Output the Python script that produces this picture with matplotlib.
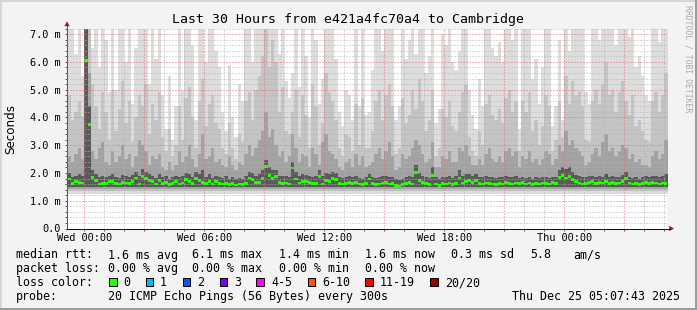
import numpy as np
import matplotlib
matplotlib.use("Agg")
import matplotlib.pyplot as plt
from matplotlib.patches import Rectangle, Polygon
from matplotlib.lines import Line2D
from matplotlib.transforms import Affine2D

W, H = 697, 310
MONO = "DejaVu Sans Mono"

# ---------------- data ----------------
title = "Last 30 Hours from e421a4fc70a4 to Cambridge"
start_hour = -50 / 60            # first 10-min step: Tue 23:10 (hours rel. to Wed 00:00)
step_minutes = 10
view_start = -(52 + 17 / 60) / 60  # Tue 23:07:43
view_hours = 30

median = [1.78, 1.62, 1.68, 1.66, 1.64, 6.05, 3.75, 1.85, 1.72, 1.60,
          1.63, 1.62, 1.68, 1.70, 1.62, 1.60, 1.66, 1.64, 1.62, 1.68,
          1.82, 1.60, 1.87, 1.80, 1.72, 1.68, 1.60, 1.72, 1.62, 1.66,
          1.58, 1.62, 1.68, 1.60, 1.64, 1.76, 1.70, 1.62, 1.80, 1.74,
          1.66, 1.63, 1.70, 1.60, 1.68,
          1.63, 1.60, 1.62, 1.58, 1.63, 1.57, 1.60, 1.58, 1.63, 1.82,
          1.76, 1.66, 1.66, 1.80, 2.22, 1.92, 1.80, 1.86, 1.66, 1.62,
          1.64, 1.60, 2.18, 1.78, 1.64, 1.70, 1.68, 1.66, 1.62, 1.63,
          1.86, 1.60, 1.72, 1.68, 1.80, 1.76, 1.62, 1.60, 1.63, 1.65,
          1.62, 1.66, 1.60, 1.58, 1.62,
          1.78, 1.62, 1.58, 1.60, 1.64, 1.66, 1.60, 1.62, 1.55, 1.52,
          1.58, 1.62, 1.66, 1.60, 2.02, 1.72, 1.66, 1.62, 1.58, 1.92,
          1.60, 1.56, 1.62, 1.60, 1.64, 1.58, 1.62, 1.82, 1.64, 1.68,
          1.74, 1.66, 1.72, 1.62, 1.60, 1.64, 1.62, 1.60, 1.58, 1.62,
          1.60, 1.66, 1.62, 1.60, 1.64,
          1.62, 1.66, 1.60, 1.64, 1.58, 1.62, 1.60, 1.64, 1.62, 1.60,
          1.66, 1.62, 1.84, 1.90, 1.82, 1.88, 1.76, 1.68, 1.64, 1.60,
          1.62, 1.66, 1.68, 1.62, 1.66, 1.64, 1.70, 1.62, 1.66, 1.62,
          1.64, 1.68, 1.80, 1.64, 1.60, 1.62, 1.58, 1.62, 1.66, 1.62,
          1.66, 1.64, 1.60, 1.64, 1.62]

# top of the smoke (highest ping per step, clipped at the top of the graph)
ping_max = [7.2, 7.2, 6.3, 7.2, 5.5, 7.2, 7.2, 6.5, 7.2, 5.8,
            7.2, 6.8, 4.9, 7.2, 5.0, 7.2, 7.2, 6.0, 7.2, 4.5,
            6.5, 7.2, 7.2, 7.2, 5.2, 7.2, 6.1, 7.2, 4.8, 3.6,
            5.5, 3.2, 4.4, 7.2, 5.0, 7.2, 7.2, 6.6, 3.9, 7.2,
            7.2, 6.0, 7.2, 7.2, 6.4,
            5.8, 4.2, 3.5, 5.9, 4.0, 3.3, 5.2, 4.6, 7.2, 7.2,
            6.0, 7.2, 7.2, 7.2, 7.2, 7.2, 7.2, 7.2, 6.3, 7.2,
            5.3, 4.7, 5.6, 7.2, 5.1, 7.2, 6.2, 4.0, 7.2, 6.8,
            4.5, 5.4, 7.2, 7.2, 7.2, 6.1, 4.2, 3.7, 5.0, 4.8,
            3.9, 7.2, 4.4, 7.2, 4.1,
            4.2, 5.7, 7.2, 7.2, 6.4, 7.2, 7.2, 7.2, 3.9, 4.4,
            7.2, 6.1, 6.8, 7.2, 6.3, 7.2, 7.2, 5.6, 6.2, 7.2,
            3.8, 4.3, 7.0, 6.6, 7.2, 6.0, 5.7, 6.4, 7.2, 7.2,
            5.0, 4.1, 3.6, 5.4, 4.4, 7.2, 7.2, 6.5, 6.2, 6.7,
            6.0, 7.2, 7.2, 6.8, 7.2,
            3.6, 7.2, 7.2, 7.2, 5.4, 6.1, 4.5, 5.8, 7.2, 7.2,
            3.7, 4.4, 6.8, 3.9, 7.2, 6.4, 7.2, 7.2, 7.2, 7.2,
            4.9, 4.5, 7.2, 7.2, 6.8, 7.2, 7.2, 7.2, 7.2, 6.6,
            7.2, 7.2, 7.2, 6.9, 7.2, 5.8, 6.2, 5.5, 4.8, 4.6,
            7.2, 7.2, 6.7, 7.2, 7.2]

ping_hi2 = [4.8, 3.9, 4.2, 4.6, 4.0, 7.2, 7.2, 5.2, 4.4, 3.6,
            4.9, 4.2, 3.2, 5.0, 3.5, 4.3, 5.3, 3.8, 4.6, 3.1,
            4.0, 4.8, 4.4, 5.2, 3.4, 4.5, 3.9, 4.9, 3.3, 2.8,
            3.6, 2.6, 3.0, 4.4, 3.2, 4.7, 5.1, 4.0, 2.9, 4.6,
            5.4, 3.7, 4.5, 4.8, 3.8,
            3.6, 2.9, 2.7, 3.8, 2.9, 2.5, 3.4, 3.1, 4.6, 4.9,
            3.9, 5.0, 5.5, 6.2, 7.2, 5.8, 6.8, 6.0, 4.2, 5.1,
            3.5, 3.4, 4.2, 5.0, 3.3, 4.8, 4.1, 2.9, 5.2, 4.4,
            3.0, 3.8, 5.6, 4.9, 4.6, 3.9, 2.9, 2.6, 3.4, 3.3,
            2.8, 4.5, 3.0, 4.7, 2.9,
            2.9, 3.5, 4.6, 5.0, 3.9, 4.8, 5.2, 4.4, 2.7, 2.9,
            4.7, 3.8, 4.1, 5.0, 4.3, 5.4, 4.6, 3.5, 3.9, 5.0,
            2.6, 2.9, 4.3, 4.0, 4.6, 3.7, 3.5, 4.2, 4.9, 5.2,
            3.3, 2.8, 2.6, 3.5, 3.0, 4.5, 4.8, 4.1, 3.9, 4.3,
            3.8, 4.7, 5.0, 4.2, 4.6,
            2.8, 4.6, 4.2, 4.9, 3.5, 3.9, 3.0, 3.7, 4.8, 4.4,
            2.8, 3.2, 4.6, 3.3, 5.5, 4.5, 5.3, 4.8, 4.9, 4.4,
            3.2, 3.1, 4.6, 5.0, 4.5, 5.2, 6.0, 4.8, 5.0, 4.2,
            4.9, 5.3, 4.6, 4.1, 4.8, 3.7, 3.9, 3.5, 3.2, 3.1,
            4.6, 4.9, 4.2, 4.8, 5.6]

ping_hi3 = [2.6, 2.4, 2.7, 2.9, 2.5, 7.2, 5.6, 2.8, 2.5, 2.9,
            3.1, 2.4, 2.3, 2.8, 2.4, 2.6, 3.0, 2.5, 2.7, 2.2,
            2.6, 3.2, 3.0, 2.8, 2.3, 2.6, 2.5, 2.7, 2.2, 2.1,
            2.4, 2.1, 2.3, 2.8, 2.4, 2.6, 3.0, 2.5, 2.2, 2.7,
            3.4, 2.5, 2.6, 2.9, 2.4,
            2.5, 2.3, 2.2, 2.6, 2.3, 2.1, 2.4, 2.3, 2.7, 3.0,
            2.6, 2.9, 3.2, 3.5, 4.2, 3.3, 3.6, 3.0, 2.6, 2.8,
            2.4, 2.6, 3.4, 2.9, 2.4, 2.7, 2.6, 2.2, 2.9, 2.7,
            2.3, 3.1, 3.4, 2.8, 2.7, 2.5, 2.2, 2.1, 2.4, 2.5,
            2.2, 2.7, 2.3, 2.6, 2.2,
            2.3, 2.4, 2.7, 2.9, 2.5, 2.8, 3.1, 2.6, 2.1, 2.2,
            2.7, 2.5, 2.6, 2.9, 3.2, 3.0, 2.7, 2.4, 2.5, 3.1,
            2.2, 2.2, 2.6, 2.5, 2.8, 2.4, 2.4, 2.9, 2.8, 3.0,
            2.6, 2.3, 2.3, 2.5, 2.3, 2.7, 2.9, 2.5, 2.4, 2.6,
            2.4, 2.8, 2.9, 2.6, 2.8,
            2.2, 2.6, 2.5, 2.8, 2.4, 2.5, 2.3, 2.5, 2.8, 2.7,
            2.3, 2.5, 3.0, 2.8, 3.5, 3.0, 3.2, 2.9, 2.8, 2.6,
            2.3, 2.4, 2.7, 2.9, 2.6, 3.1, 3.4, 2.8, 2.9, 2.6,
            2.8, 3.0, 2.9, 2.5, 2.7, 2.4, 2.5, 2.3, 2.3, 2.2,
            2.6, 2.8, 2.5, 2.7, 3.2]

ping_hi4 = [2.00, 1.85, 1.90, 1.95, 1.90, 7.20, 4.40, 2.10, 1.95, 1.85,
            1.90, 1.85, 1.90, 1.95, 1.85, 1.82, 1.92, 1.88, 1.85, 1.92,
            2.05, 1.90, 2.15, 2.05, 1.95, 1.90, 1.82, 1.95, 1.85, 1.88,
            1.80, 1.85, 1.90, 1.85, 1.88, 2.00, 1.95, 1.85, 2.05, 1.98,
            2.10, 1.85, 1.95, 1.82, 1.90,
            1.85, 1.82, 1.88, 1.80, 1.85, 1.80, 1.82, 1.80, 1.88, 2.05,
            2.00, 1.90, 1.95, 2.10, 2.45, 2.20, 2.10, 2.10, 1.90, 1.88,
            1.90, 1.85, 2.40, 2.05, 1.88, 1.95, 1.92, 1.90, 1.85, 1.88,
            2.10, 1.90, 2.00, 1.95, 2.05, 2.00, 1.85, 1.82, 1.86, 1.88,
            1.85, 1.90, 1.82, 1.80, 1.85,
            1.95, 1.85, 1.82, 1.85, 1.88, 1.90, 1.85, 1.86, 1.78, 1.75,
            1.80, 1.85, 1.90, 1.85, 2.30, 2.00, 1.88, 1.84, 1.82, 2.20,
            1.85, 1.80, 1.85, 1.84, 1.88, 1.82, 1.90, 2.10, 1.90, 1.95,
            1.98, 1.90, 1.95, 1.86, 1.84, 1.88, 1.86, 1.84, 1.82, 1.86,
            1.84, 1.90, 1.86, 1.84, 1.88,
            1.82, 1.86, 1.82, 1.85, 1.80, 1.84, 1.82, 1.86, 1.84, 1.82,
            1.86, 1.84, 2.10, 2.20, 2.15, 2.20, 2.05, 1.92, 1.88, 1.84,
            1.84, 1.88, 1.90, 1.85, 1.90, 1.86, 1.95, 1.84, 1.88, 1.84,
            1.86, 1.92, 2.05, 1.86, 1.82, 1.84, 1.80, 1.84, 1.88, 1.84,
            1.90, 1.88, 1.84, 1.90, 1.95]

band_floor = [1.24, 1.35, 1.43, 1.49]   # lower edge of each smoke band (ms)
band_colors = ["#dddddd", "#c4c4c4", "#a2a2a2", "#5a5a5a"]

y_ticks = [0, 1, 2, 3, 4, 5, 6, 7]
y_tick_labels = ["0.0", "1.0 m", "2.0 m", "3.0 m", "4.0 m", "5.0 m", "6.0 m", "7.0 m"]
x_tick_hours = [0, 6, 12, 18, 24]
x_tick_labels = ["Wed 00:00", "Wed 06:00", "Wed 12:00", "Wed 18:00", "Thu 00:00"]

rtt_stats = ["1.6 ms avg", "6.1 ms max", "1.4 ms min", "1.6 ms now", "0.3 ms sd", "5.8", "am/s"]
loss_stats = ["0.00 % avg", "0.00 % max", "0.00 % min", "0.00 % now"]
loss_labels = ["0", "1", "2", "3", "4-5", "6-10", "11-19", "20/20"]
loss_colors = ["#26ff00", "#00b8ff", "#0059ff", "#7e00ff", "#ff00ff", "#ff5500", "#ff0000", "#a10000"]
probe_text = "20 ICMP Echo Pings (56 Bytes) every 300s"
stamp_text = "Thu Dec 25 05:07:43 2025"
watermark = "RRDTOOL / TOBI OETIKER"

# ---------------- figure ----------------
plt.rcParams["lines.scale_dashes"] = False
fig = plt.figure(figsize=(W / 100, H / 100), dpi=100, facecolor="#f3f3f3")
pix = Affine2D().scale(1 / W, -1 / H).translate(0, 1) + fig.transFigure

ax_left, ax_top, ax_w, ax_h = 67, 28.5, 600, 200
ax = fig.add_axes([ax_left / W, 1 - (ax_top + ax_h) / H, ax_w / W, ax_h / H])
ax.set_facecolor("white")

n = len(median)
step_h = step_minutes / 60
edges = start_hour + np.arange(n + 1) * step_h
uppers = [ping_max, ping_hi2, ping_hi3, ping_hi4]
for i, (up, lo, col) in enumerate(zip(uppers, band_floor, band_colors)):
    ax.fill_between(edges, lo, np.append(up, up[-1]), step="post",
                    color=col, linewidth=0, zorder=1 + 0.1 * i)

med = np.array(median)
ax.bar(edges[:-1], 0.1, bottom=med - 0.05, width=step_h, align="edge",
       color="#26ff00", linewidth=0, zorder=3)

ax.set_xlim(view_start, view_start + view_hours)
ax.set_ylim(0, 7.2)

major_x = list(range(0, 30, 3))
ax.set_xticks(major_x)
ax.set_xticklabels([x_tick_labels[x_tick_hours.index(h)] if h in x_tick_hours else "" for h in major_x])
ax.set_xticks(list(range(0, 30, 1)), minor=True)
ax.set_yticks(y_ticks)
ax.set_yticklabels(y_tick_labels)
ax.set_yticks(np.arange(0, 7.21, 0.2), minor=True)

ax.set_axisbelow(False)
dots = (0, (0.72, 1.44))
ax.grid(True, which="minor", color="#b4b4b4", linestyle=dots, linewidth=0.72)
ax.grid(True, which="major", color="#e07070", linestyle=dots, linewidth=0.72)

ax.tick_params(axis="both", which="both", direction="out", length=1.44, width=0.72,
               color="#555555", labelsize=7.4, labelfontfamily=MONO, labelcolor="black")
ax.tick_params(axis="y", which="both", pad=3.0)
ax.tick_params(axis="x", which="both", pad=2.0)

for s in ("top", "right"):
    ax.spines[s].set_visible(False)
ax.spines["left"].set_color("#555555")
ax.spines["bottom"].set_color("#111111")
ax.spines["left"].set_linewidth(0.72)
ax.spines["bottom"].set_linewidth(0.72)

# axis extensions and arrows
arrow_col = "#a01818"
fig.add_artist(Line2D([67, 67], [28.5, 25.5], transform=pix, color="#555555", lw=0.72))
fig.add_artist(Polygon([[64.3, 26.2], [69.7, 26.2], [67, 21.5]], closed=True,
                       transform=pix, color=arrow_col, lw=0))
fig.add_artist(Line2D([667, 669.5], [228.5, 228.5], transform=pix, color="#111111", lw=0.72))
fig.add_artist(Polygon([[669.3, 225.8], [669.3, 231.2], [674, 228.5]], closed=True,
                       transform=pix, color=arrow_col, lw=0))

# frame
fig.add_artist(Rectangle((0, 0), W, 2, transform=pix, color="#d6d6d6", lw=0))
fig.add_artist(Rectangle((0, 0), 2, H, transform=pix, color="#d6d6d6", lw=0))
fig.add_artist(Rectangle((0, H - 2), W, 2, transform=pix, color="#9c9c9c", lw=0))
fig.add_artist(Rectangle((W - 2, 0), 2, H, transform=pix, color="#9c9c9c", lw=0))

# texts
fig.text(348.5, 23.3, title, transform=pix, ha="center", va="baseline",
         fontsize=9.5, family=MONO)
fig.text(10.5, 128.5, "Seconds", transform=pix, rotation=90, ha="center", va="center",
         fontsize=8.6, family="DejaVu Sans")
fig.text(688, 5, watermark, transform=pix, rotation=270, ha="center", va="top",
         fontsize=5.9, family=MONO, color="#aaaaaa")

lt = dict(transform=pix, ha="left", va="baseline", fontsize=8.4, family=MONO)
rows = [258.5, 272.3, 286.1, 299.9]
fig.text(16, rows[0], "median rtt:", **lt)
for x, s in zip([107.6, 192.4, 279.1, 365.3, 451.1, 530.2, 573.3], rtt_stats):
    fig.text(x, rows[0], s, **lt)
fig.text(16, rows[1], "packet loss:", **lt)
for x, s in zip([107.6, 192.4, 279.1, 365.3], loss_stats):
    fig.text(x, rows[1], s, **lt)
fig.text(16, rows[2], "loss color:", **lt)
box_x = [108.9, 145.8, 182.7, 219.6, 256.4, 307.6, 365.3, 430.2]
lab_x = [123.6, 160.0, 196.9, 234.2, 271.1, 322.2, 380.0, 444.9]
for bx, lx, lab, col in zip(box_x, lab_x, loss_labels, loss_colors):
    fig.add_artist(Rectangle((bx, 277.8), 7.6, 8.6, transform=pix, facecolor=col,
                             edgecolor="black", lw=0.72))
    fig.text(lx, rows[2], lab, **lt)
fig.text(16, rows[3], "probe:", **lt)
fig.text(107.6, rows[3], probe_text, **lt)
fig.text(680, rows[3], stamp_text, transform=pix, ha="right", va="baseline",
         fontsize=8.4, family=MONO)

fig.savefig("out.png", dpi=100, facecolor=fig.get_facecolor())
